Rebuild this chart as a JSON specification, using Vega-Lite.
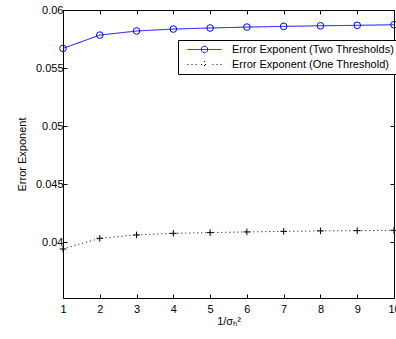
{
  "$schema": "https://vega.github.io/schema/vega-lite/v6.json",
  "autosize": "none",
  "width": 331,
  "height": 288,
  "padding": {"left": 63, "top": 10, "right": 2, "bottom": 41},
  "background": "white",
  "config": {
    "view": {"stroke": "black", "strokeWidth": 1},
    "font": "Liberation Sans",
    "axis": {
      "grid": false,
      "domain": false,
      "tickColor": "black",
      "tickSize": -4,
      "labelFont": "Liberation Sans",
      "labelFontSize": 11,
      "labelColor": "black",
      "titleFont": "Liberation Sans",
      "titleFontSize": 11,
      "titleFontWeight": "normal",
      "titleColor": "black"
    },
    "legend": {
      "labelFont": "Liberation Sans",
      "labelFontSize": 11,
      "labelColor": "black",
      "labelLimit": 400
    }
  },
  "data": {
    "values": [
      {"x": 1, "value": 0.05669, "series": "Error Exponent (Two Thresholds)"},
      {"x": 2, "value": 0.05784, "series": "Error Exponent (Two Thresholds)"},
      {"x": 3, "value": 0.05819, "series": "Error Exponent (Two Thresholds)"},
      {"x": 4, "value": 0.05836, "series": "Error Exponent (Two Thresholds)"},
      {"x": 5, "value": 0.05845, "series": "Error Exponent (Two Thresholds)"},
      {"x": 6, "value": 0.05853, "series": "Error Exponent (Two Thresholds)"},
      {"x": 7, "value": 0.05859, "series": "Error Exponent (Two Thresholds)"},
      {"x": 8, "value": 0.05864, "series": "Error Exponent (Two Thresholds)"},
      {"x": 9, "value": 0.05868, "series": "Error Exponent (Two Thresholds)"},
      {"x": 10, "value": 0.05873, "series": "Error Exponent (Two Thresholds)"},
      {"x": 1, "value": 0.03942, "series": "Error Exponent (One Threshold)"},
      {"x": 2, "value": 0.04034, "series": "Error Exponent (One Threshold)"},
      {"x": 3, "value": 0.04063, "series": "Error Exponent (One Threshold)"},
      {"x": 4, "value": 0.04077, "series": "Error Exponent (One Threshold)"},
      {"x": 5, "value": 0.04083, "series": "Error Exponent (One Threshold)"},
      {"x": 6, "value": 0.04089, "series": "Error Exponent (One Threshold)"},
      {"x": 7, "value": 0.04094, "series": "Error Exponent (One Threshold)"},
      {"x": 8, "value": 0.04098, "series": "Error Exponent (One Threshold)"},
      {"x": 9, "value": 0.04100, "series": "Error Exponent (One Threshold)"},
      {"x": 10, "value": 0.04103, "series": "Error Exponent (One Threshold)"}
    ]
  },
  "resolve": {"axis": {"x": "independent", "y": "independent"}},
  "layer": [
    {
      "mark": {"type": "line", "strokeWidth": 1, "clip": true},
      "encoding": {
        "x": {
          "field": "x", "type": "quantitative",
          "scale": {"domain": [1, 10], "nice": false, "zero": false},
          "axis": {"orient": "bottom", "values": [1,2,3,4,5,6,7,8,9,10], "format": "d", "labelPadding": 9, "title": "1/σₕ²", "titlePadding": 1, "labelFlush": false}
        },
        "y": {
          "field": "value", "type": "quantitative",
          "scale": {"domain": [0.0352, 0.06], "nice": false, "zero": false},
          "axis": {"orient": "left", "values": [0.04, 0.045, 0.05, 0.055, 0.06], "format": ".3~f", "labelPadding": 4, "title": "Error Exponent", "titlePadding": 8, "labelFlush": false}
        },
        "color": {
          "field": "series", "type": "nominal",
          "scale": {"domain": ["Error Exponent (Two Thresholds)", "Error Exponent (One Threshold)"], "range": ["#0000ff", "#000000"]},
          "legend": {
            "title": null,
            "orient": "none",
            "legendX": 115,
            "legendY": 30,
            "padding": 3,
            "strokeColor": "black",
            "fillColor": "white",
            "symbolSize": 1156,
            "symbolOffset": 6,
            "labelOffset": 10,
            "clipHeight": 13,
            "rowPadding": 2,
            "encoding": {
              "symbols": {
                "shape": {
                  "condition": {"test": "datum.value === 'Error Exponent (Two Thresholds)'", "value": "M-1,0L1,0M0.194,0L0.168,0.097L0.097,0.168L0,0.194L-0.097,0.168L-0.168,0.097L-0.194,0L-0.168,-0.097L-0.097,-0.168L0,-0.194L0.097,-0.168L0.168,-0.097Z"},
                  "value": "M-1,0L-0.94,0M-0.765,0L-0.705,0M-0.53,0L-0.47,0M0.47,0L0.53,0M0.705,0L0.765,0M0.94,0L1,0M-0.206,0L0.206,0M0,-0.206L0,0.206"
                },
                "size": {"value": 1156},
                "fill": {"value": "transparent"},
                "strokeWidth": {"value": 1},
                "strokeDash": {"value": [1, 0]},
                "opacity": {"value": 1}
              }
            }
          }
        },
        "strokeDash": {
          "field": "series", "type": "nominal",
          "scale": {"domain": ["Error Exponent (Two Thresholds)", "Error Exponent (One Threshold)"], "range": [[1, 0], [1, 3]]},
          "legend": null
        }
      }
    },
    {
      "transform": [{"filter": "datum.series === 'Error Exponent (Two Thresholds)'"}],
      "mark": {"type": "point", "shape": "circle", "filled": false, "size": 44, "strokeWidth": 1, "color": "#0000ff", "opacity": 1},
      "encoding": {
        "x": {
          "field": "x", "type": "quantitative",
          "axis": {"orient": "top", "values": [1,2,3,4,5,6,7,8,9,10], "labels": false, "title": null}
        },
        "y": {
          "field": "value", "type": "quantitative",
          "axis": {"orient": "right", "values": [0.04, 0.045, 0.05, 0.055, 0.06], "labels": false, "title": null}
        }
      }
    },
    {
      "transform": [{"filter": "datum.series === 'Error Exponent (One Threshold)'"}],
      "mark": {"type": "point", "shape": "M-1,0L1,0M0,-1L0,1", "filled": false, "size": 44, "strokeWidth": 1, "color": "#000000", "opacity": 1},
      "encoding": {
        "x": {"field": "x", "type": "quantitative", "axis": null},
        "y": {"field": "value", "type": "quantitative", "axis": null}
      }
    }
  ]
}
